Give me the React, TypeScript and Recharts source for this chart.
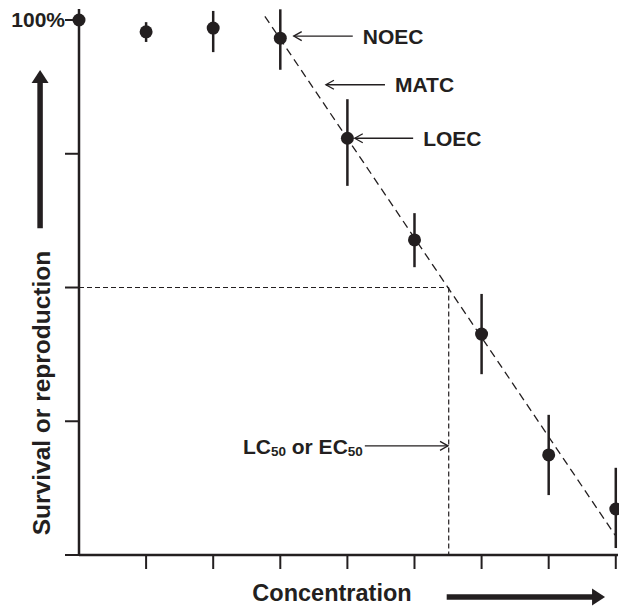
import React from 'react';
import { ScatterChart, Scatter, XAxis, YAxis, ErrorBar, ReferenceLine } from 'recharts';

const FONT = '"Liberation Sans", Arial, Helvetica, sans-serif';
const INK = '#231f20';

// data
const concentration = [0, 1, 2, 3, 4, 5, 6, 7, 8];
const response = [100, 97.8, 98.5, 96.6, 77.9, 58.9, 41.3, 18.7, 8.6];
const errLow = [0, 1.9, 4.5, 5.9, 8.9, 5.1, 7.5, 7.5, 7.3];
const errHigh = [0, 1.8, 3.2, 5.4, 7.3, 5.0, 7.5, 7.5, 7.7];
const xTicks = [1, 2, 3, 4, 5, 6, 7, 8];
const yTicks = [0, 25, 50, 75, 100];
const yTickLabels: Record<number, string> = { 100: '100%' };

// regression / LC50 annotation points (data coordinates)
const regression = [{ x: 2.77, y: 100.7 }, { x: 7.99, y: 3.7 }];
const lc50 = { x: 5.51, y: 50 };

const data = concentration.map((c, i) => ({
  x: c,
  y: response[i],
  err: [errLow[i], errHigh[i]],
}));

const openArrow = (label: React.ReactNode, textSide: 'start' | 'end') => (p: any) => {
  const { x1, y1, x2, y2 } = p;
  const dx = x2 - x1;
  const dy = y2 - y1;
  const len = Math.sqrt(dx * dx + dy * dy) || 1;
  const ux = dx / len;
  const uy = dy / len;
  const hl = 8;
  const hw = 4.5;
  const bx = x2 - ux * hl;
  const by = y2 - uy * hl;
  const tx = textSide === 'start' ? x1 + 10 : x1 - 2;
  return (
    <g>
      <line x1={x1} y1={y1} x2={x2} y2={y2} stroke={INK} strokeWidth={1.3} />
      <polyline
        points={`${bx - uy * hw},${by + ux * hw} ${x2},${y2} ${bx + uy * hw},${by - ux * hw}`}
        fill="none"
        stroke={INK}
        strokeWidth={1.3}
      />
      <text
        x={tx}
        y={y1}
        dominantBaseline="central"
        textAnchor={textSide}
        fontFamily={FONT}
        fontWeight="bold"
        fontSize={21}
        fill={INK}
      >
        {label}
      </text>
    </g>
  );
};

const solidArrow = (p: any) => {
  const { x1, y1, x2, y2 } = p;
  const dx = x2 - x1;
  const dy = y2 - y1;
  const len = Math.sqrt(dx * dx + dy * dy) || 1;
  const ux = dx / len;
  const uy = dy / len;
  const hl = 13;
  const hw = 8.5;
  const bx = x2 - ux * hl;
  const by = y2 - uy * hl;
  return (
    <g>
      <line x1={x1} y1={y1} x2={bx + ux} y2={by + uy} stroke={INK} strokeWidth={5.5} />
      <polygon
        points={`${bx - uy * hw},${by + ux * hw} ${x2},${y2} ${bx + uy * hw},${by - ux * hw}`}
        fill={INK}
      />
    </g>
  );
};

const YTitle = (p: any) => {
  const vb = p.viewBox || {};
  const x = vb.x + 31;
  const y = vb.y + vb.height - 162;
  return (
    <text
      x={x}
      y={y}
      transform={`rotate(-90, ${x}, ${y})`}
      textAnchor="middle"
      fontFamily={FONT}
      fontWeight="bold"
      fontSize={24.5}
      fill={INK}
    >
      Survival or reproduction
    </text>
  );
};

const XTitle = (p: any) => {
  const vb = p.viewBox || {};
  return (
    <text
      x={vb.x + 253}
      y={vb.y + 46}
      textAnchor="middle"
      fontFamily={FONT}
      fontWeight="bold"
      fontSize={23.5}
      fill={INK}
    >
      Concentration
    </text>
  );
};

const Dot = (p: any) => <circle cx={p.cx} cy={p.cy} r={6.5} fill={INK} />;

export default function App() {
  return (
    <div style={{ position: 'absolute', left: 0, top: 0, background: '#fff' }}>
      <ScatterChart width={619} height={606} margin={{ top: 9, right: 1, bottom: 21, left: 19 }}>
        <XAxis
          type="number"
          dataKey="x"
          domain={[0, 8.033]}
          ticks={xTicks}
          tickSize={14}
          tickFormatter={() => ''}
          axisLine={{ stroke: INK, strokeWidth: 2.5 }}
          tickLine={{ stroke: INK, strokeWidth: 2 }}
          height={30}
          label={<XTitle />}
        />
        <YAxis
          type="number"
          dataKey="y"
          domain={[0, 102.06]}
          ticks={yTicks}
          tickSize={14}
          tickMargin={0}
          width={60}
          tickFormatter={(v: number) => yTickLabels[v] || ''}
          tick={{ fill: INK, fontSize: 21, fontWeight: 'bold', fontFamily: FONT }}
          axisLine={{ stroke: INK, strokeWidth: 2.5 }}
          tickLine={{ stroke: INK, strokeWidth: 2 }}
          label={<YTitle />}
        />
        <ReferenceLine
          segment={[{ x: 0, y: lc50.y }, { x: lc50.x, y: lc50.y }]}
          stroke={INK}
          strokeWidth={1.2}
          strokeDasharray="5 3"
          ifOverflow="visible"
        />
        <ReferenceLine
          segment={[{ x: lc50.x, y: lc50.y }, { x: lc50.x, y: 0 }]}
          stroke={INK}
          strokeWidth={1.2}
          strokeDasharray="5 3"
          ifOverflow="visible"
        />
        <ReferenceLine
          segment={regression}
          stroke={INK}
          strokeWidth={1.3}
          strokeDasharray="8 5"
          ifOverflow="visible"
        />
        <ReferenceLine
          segment={[{ x: 4.08, y: 97.0 }, { x: 3.2, y: 97.0 }]}
          ifOverflow="visible"
          shape={openArrow('NOEC', 'start')}
        />
        <ReferenceLine
          segment={[{ x: 4.56, y: 87.9 }, { x: 3.68, y: 87.9 }]}
          ifOverflow="visible"
          shape={openArrow('MATC', 'start')}
        />
        <ReferenceLine
          segment={[{ x: 4.98, y: 77.9 }, { x: 4.11, y: 77.9 }]}
          ifOverflow="visible"
          shape={openArrow('LOEC', 'start')}
        />
        <ReferenceLine
          segment={[{ x: 4.26, y: 20.4 }, { x: 5.5, y: 20.4 }]}
          ifOverflow="visible"
          shape={openArrow(
            <>
              <tspan>LC</tspan>
              <tspan dy={5} fontSize={13.5}>50</tspan>
              <tspan dy={-5}> or EC</tspan>
              <tspan dy={5} fontSize={13.5}>50</tspan>
            </>,
            'end'
          )}
        />
        <ReferenceLine
          segment={[{ x: -0.58, y: 61.1 }, { x: -0.58, y: 90.65 }]}
          ifOverflow="visible"
          shape={solidArrow}
        />
        <ReferenceLine
          segment={[{ x: 5.48, y: -7.85 }, { x: 7.84, y: -7.85 }]}
          ifOverflow="visible"
          shape={solidArrow}
        />
        <Scatter data={data} shape={Dot} isAnimationActive={false}>
          <ErrorBar dataKey="err" direction="y" width={0} stroke={INK} strokeWidth={2.5} />
        </Scatter>
      </ScatterChart>
    </div>
  );
}
